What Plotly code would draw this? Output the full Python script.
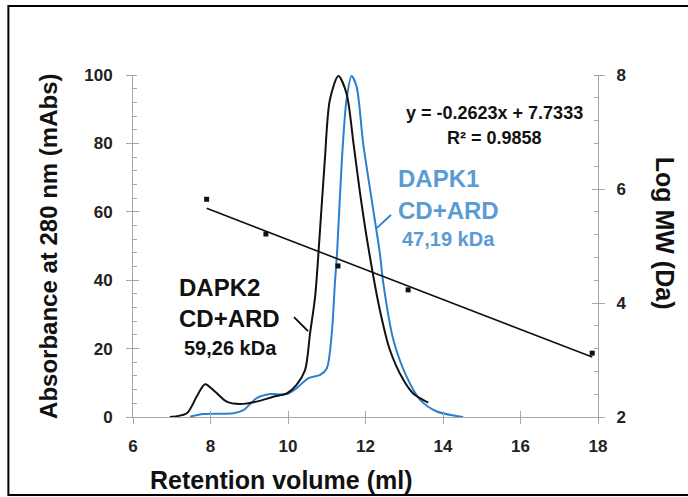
import plotly.graph_objects as go

# ---- data ----
dapk2_x = [6.95, 7.39, 7.64, 7.86, 8.12, 8.42, 8.76, 9.19, 9.62, 9.97, 10.22, 10.44, 10.57, 10.70, 10.78,
           10.95, 11.08, 11.30, 11.51, 11.69, 11.86, 12.07, 12.37, 12.63, 12.98, 13.23, 13.62]
dapk2_y = [0.0, 1.1, 5.9, 9.6, 7.4, 4.5, 3.8, 4.5, 5.9, 6.9, 9.4, 13.7, 24.5, 35.2, 46.9,
           75.1, 92.7, 99.7, 94.6, 80.0, 65.4, 49.8, 31.3, 19.6, 10.8, 6.9, 4.2]

dapk1_x = [7.47, 7.81, 8.59, 8.85, 9.19, 9.54, 9.97, 10.22, 10.52, 10.83, 11.0, 11.13, 11.21, 11.27,
           11.39, 11.51, 11.64, 11.77, 11.94, 12.16, 12.37, 12.46, 12.72, 13.06, 13.41, 13.84, 14.35, 14.52]
dapk1_y = [0.1, 0.9, 1.1, 2.0, 5.5, 6.7, 6.7, 8.4, 11.3, 12.3, 14.2, 24.5, 39.1, 48.8,
           75.1, 92.7, 99.7, 96.6, 80.0, 63.5, 47.9, 39.1, 22.5, 11.8, 5.0, 1.6, 0.3, 0.0]

std_x = [7.9, 9.43, 11.29, 13.1, 17.85]
std_logmw = [5.82, 5.21, 4.65, 4.23, 3.12]

fit_slope = -0.2623
fit_intercept = 7.7333
fit_x = [7.9, 17.85]
fit_y = [fit_slope * v + fit_intercept for v in fit_x]

x_ticks = [6, 8, 10, 12, 14, 16, 18]
y_ticks = [0, 20, 40, 60, 80, 100]
y2_ticks = [2, 4, 6, 8]

BLACK = "#111111"
BLUE_LINE = "#2a7fd0"
BLUE_TEXT = "#5b9bd5"
AXIS = "#a6a6a6"
FONT = "Liberation Sans, Arial, sans-serif"

fig = go.Figure()
fig.add_trace(go.Scatter(x=dapk1_x, y=dapk1_y, mode="lines",
                         line=dict(color=BLUE_LINE, width=2, shape="spline", smoothing=0.8),
                         showlegend=False, hoverinfo="skip"))
fig.add_trace(go.Scatter(x=dapk2_x, y=dapk2_y, mode="lines",
                         line=dict(color=BLACK, width=2, shape="spline", smoothing=0.8),
                         showlegend=False, hoverinfo="skip"))
fig.add_trace(go.Scatter(x=fit_x, y=fit_y, mode="lines", yaxis="y2",
                         line=dict(color=BLACK, width=1.6), showlegend=False, hoverinfo="skip"))
fig.add_trace(go.Scatter(x=std_x, y=std_logmw, mode="markers", yaxis="y2",
                         marker=dict(color=BLACK, size=5, symbol="square"),
                         showlegend=False, hoverinfo="skip"))

tickfont = dict(family=FONT, size=17, color="#222222", weight="bold")
common = dict(showgrid=False, zeroline=False, showline=True, linecolor=AXIS, linewidth=1,
              tickcolor=AXIS, tickwidth=1, ticklen=6)

fig.update_layout(
    width=688, height=497,
    margin=dict(l=133, r=90, t=75, b=80),
    paper_bgcolor="white", plot_bgcolor="white",
    xaxis=dict(range=[6, 18], tickvals=x_ticks, ticks="outside", tickfont=tickfont,
               ticklabelstandoff=8, **common),
    yaxis=dict(range=[0, 100], tickvals=y_ticks, ticks="outside", tickfont=tickfont,
               ticklabelstandoff=10,
               minor=dict(dtick=4, ticks="inside", ticklen=4, tickcolor=AXIS), **common),
    yaxis2=dict(range=[2, 8], tickvals=y2_ticks, ticks="outside", tickfont=tickfont,
                overlaying="y", side="right", ticklabelstandoff=8,
                minor=dict(dtick=0.4, ticks="inside", ticklen=4, tickcolor=AXIS), **common),
    xaxis3=dict(range=[6, 18], tickvals=x_ticks, ticks="inside", overlaying="x",
                showticklabels=False, **common),
    yaxis3=dict(range=[0, 100], tickvals=y_ticks, ticks="inside", overlaying="y",
                showticklabels=False, **common),
    yaxis4=dict(range=[2, 8], tickvals=y2_ticks, ticks="inside", overlaying="y", side="right",
                showticklabels=False, **common),
)
# invisible traces to activate overlay axes
fig.add_trace(go.Scatter(x=[6], y=[0], xaxis="x3", yaxis="y3", mode="markers",
                         marker=dict(opacity=0), showlegend=False, hoverinfo="skip"))
fig.add_trace(go.Scatter(x=[6], y=[2], xaxis="x3", yaxis="y4", mode="markers",
                         marker=dict(opacity=0), showlegend=False, hoverinfo="skip"))

title_font = dict(family=FONT, size=24, color="#111111", weight="bold")
ctr = dict(xanchor="center", yanchor="middle", showarrow=False, xref="paper", yref="paper")
fig.add_annotation(text="Absorbance at 280 nm (mAbs)", x=-0.183, y=0.5, textangle=-90,
                   font=title_font, **ctr)
fig.add_annotation(text="Log MW (Da)", x=1.144, y=0.536, textangle=90,
                   font=dict(title_font, size=25), **ctr)
fig.add_annotation(text="Retention volume (ml)", x=0.319, y=-0.184,
                   font=dict(title_font, size=25), **ctr)

eq_font = dict(family=FONT, size=18, color="#111111", weight="bold")
fig.add_annotation(text="y = -0.2623x + 7.7333", x=15.34, y=88.9, showarrow=False, font=eq_font)
fig.add_annotation(text="R² = 0.9858", x=15.34, y=81.6, showarrow=False, font=eq_font)

big_b = dict(family=FONT, size=24, color=BLUE_TEXT, weight="bold")
small_b = dict(family=FONT, size=20, color=BLUE_TEXT, weight="bold")
fig.add_annotation(text="DAPK1", x=12.78, y=69.6, xanchor="left", showarrow=False, font=big_b)
fig.add_annotation(text="CD+ARD", x=12.78, y=60.5, xanchor="left", showarrow=False, font=big_b)
fig.add_annotation(text="47,19 kDa", x=12.89, y=52.0, xanchor="left", showarrow=False, font=small_b)

big_k = dict(family=FONT, size=24, color="#111111", weight="bold")
small_k = dict(family=FONT, size=20, color="#111111", weight="bold")
fig.add_annotation(text="DAPK2", x=7.13, y=38.0, xanchor="left", showarrow=False, font=big_k)
fig.add_annotation(text="CD+ARD", x=7.13, y=28.9, xanchor="left", showarrow=False, font=big_k)
fig.add_annotation(text="59,26 kDa", x=7.26, y=20.2, xanchor="left", showarrow=False, font=small_k)

# leader lines
fig.add_shape(type="line", x0=10.155, y0=29.2, x1=10.516, y1=25.1,
              line=dict(color=BLACK, width=2))
fig.add_shape(type="line", x0=12.297, y0=55.3, x1=12.658, y1=59.1,
              line=dict(color=BLUE_LINE, width=2))

# frame
fig.add_shape(type="rect", xref="paper", yref="paper", x0=-0.268, x1=1.3, y0=-0.228, y1=1.2018,
              line=dict(color="black", width=2), layer="below")

fig.write_html("out.html", config={"displayModeBar": False},
               post_script="document.body.style.margin='0';")
